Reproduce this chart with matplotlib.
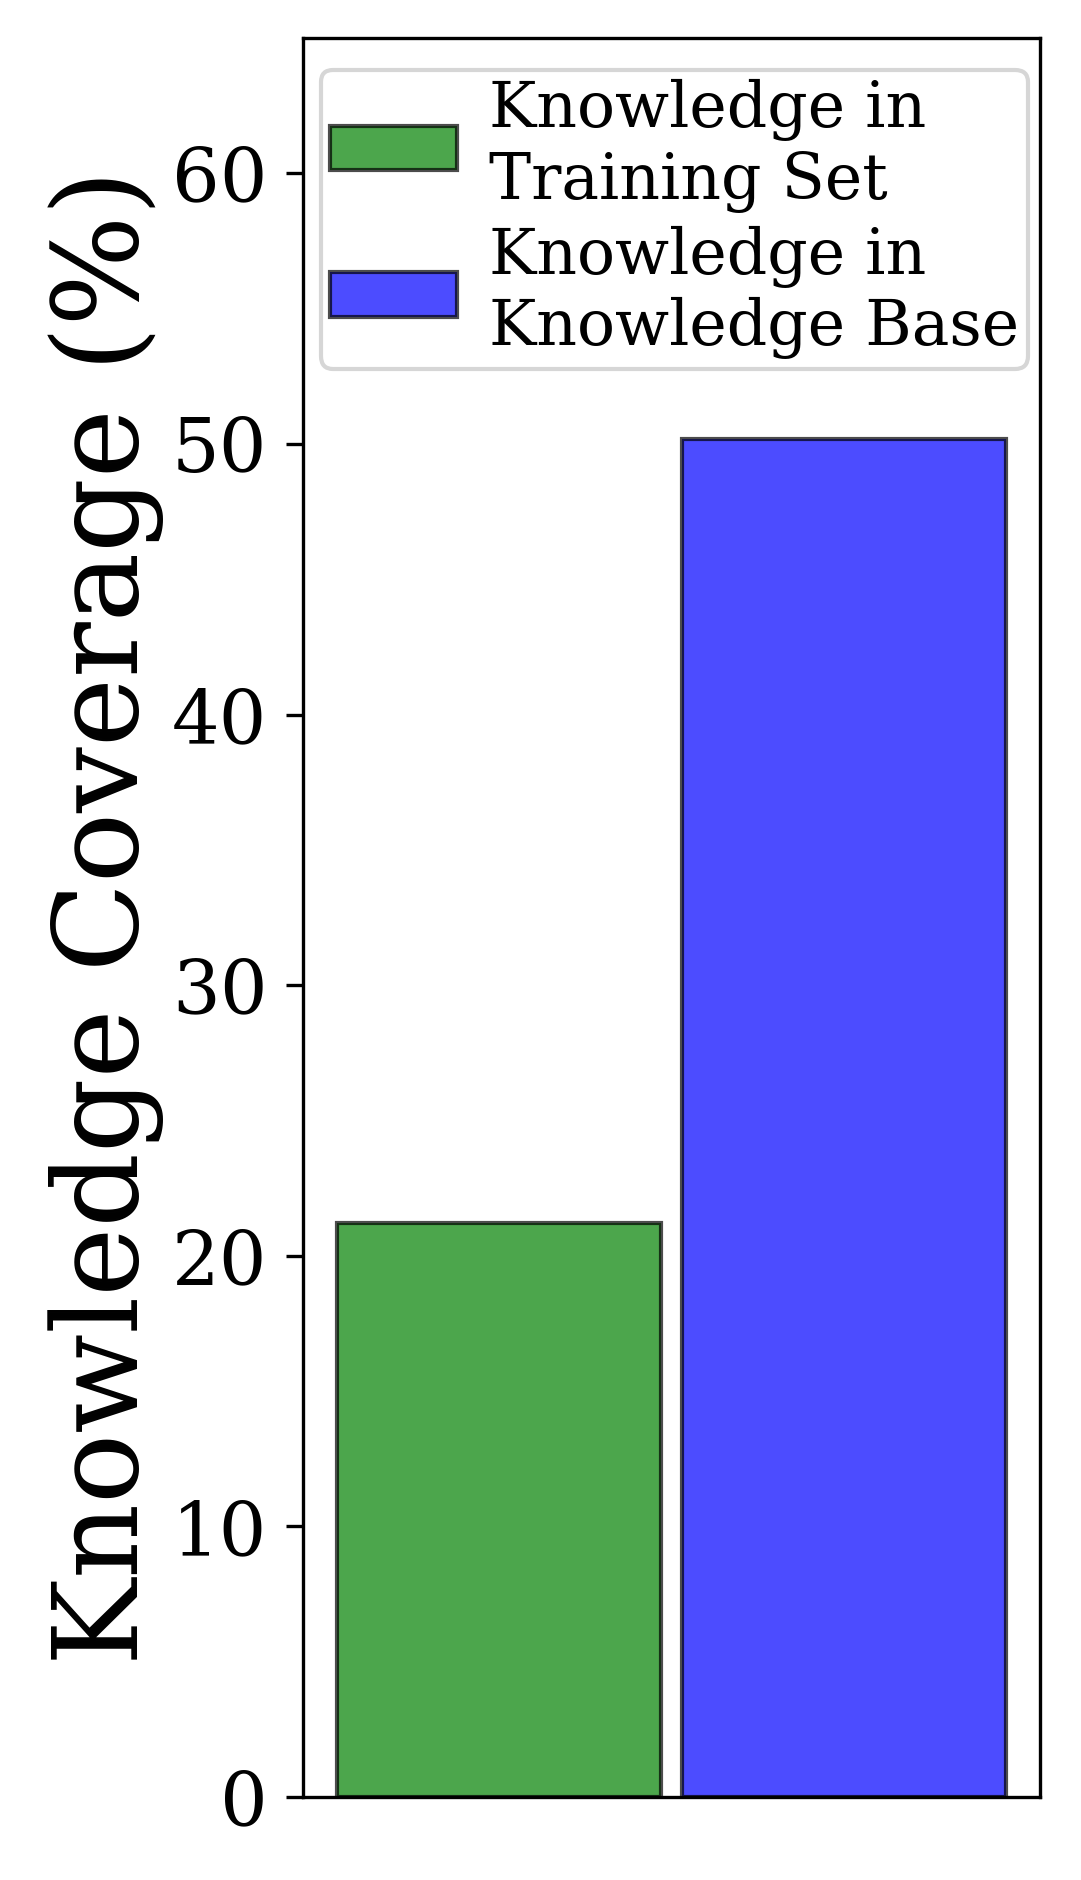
import matplotlib
matplotlib.use('Agg')
import matplotlib.pyplot as plt

plt.rcParams['font.family'] = 'DejaVu Serif'

# Data
labels = ['Knowledge in\nTraining Set', 'Knowledge in\nKnowledge Base']
values = [21.2, 50.2]
colors = ['green', 'blue']
positions = [0, 1]

fig = plt.figure(figsize=(1081 / 300, 1880 / 300), dpi=300)
ax = fig.add_axes([0.2803, 0.0441, 0.962 - 0.2803, 0.9798 - 0.0441])

for pos, val, col, lab in zip(positions, values, colors, labels):
    ax.bar(pos, val, width=0.94, color=col, alpha=0.7, edgecolor='black',
           linewidth=1.0, label=lab)

ax.set_ylim(0, 65)
ax.set_xticks([])
ax.set_yticks([0, 10, 20, 30, 40, 50, 60])
ax.tick_params(axis='y', labelsize=18, length=4, pad=4.5)
ax.set_ylabel('Knowledge Coverage (%)', fontsize=28, labelpad=2)

ax.legend(loc='upper right', bbox_to_anchor=(0.984, 0.982), borderaxespad=0,
          fontsize=15.2, labelspacing=0.2, handletextpad=0.5, borderpad=0.15)

fig.savefig('out.png', dpi=300)
